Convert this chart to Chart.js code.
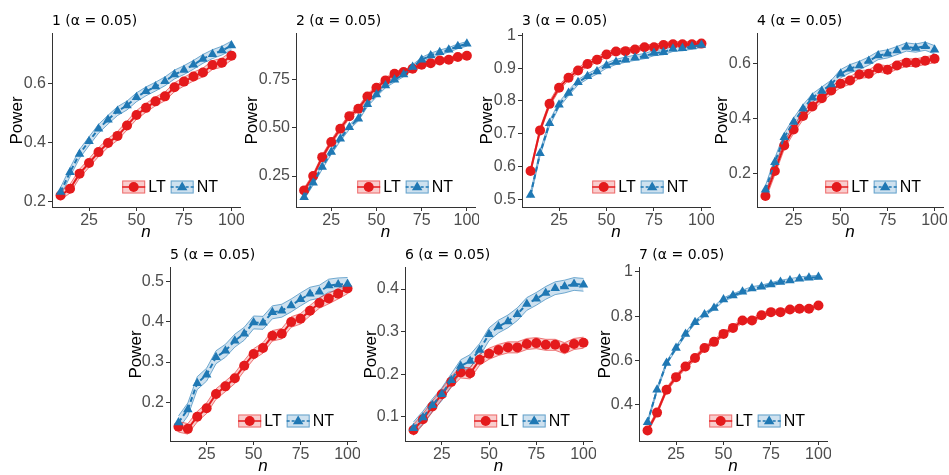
<!DOCTYPE html>
<html>
<head>
<meta charset="utf-8">
<script src="https://cdn.jsdelivr.net/npm/chart.js@4.4.1/dist/chart.umd.min.js"></script>
<style>
  html, body { margin: 0; padding: 0; background: #fff; }
  body { width: 949px; height: 475px; position: relative; overflow: hidden; }
  canvas.panel { position: absolute; }
</style>
</head>
<body>
<script>
// sample sizes on the x axis
const sampleSizes = [10, 15, 20, 25, 30, 35, 40, 45, 50, 55, 60, 65, 70, 75, 80, 85, 90, 95, 100];
const xTicks = [25, 50, 75, 100];
const seriesNames = ["LT", "NT"];
const panelTitles = ["1 (α = 0.05)", "2 (α = 0.05)", "3 (α = 0.05)", "4 (α = 0.05)",
  "5 (α = 0.05)", "6 (α = 0.05)", "7 (α = 0.05)"];

// power
const lt1 = [0.222, 0.245, 0.296, 0.332, 0.369, 0.400, 0.424, 0.459, 0.495, 0.519, 0.541, 0.558, 0.589, 0.608, 0.625, 0.639, 0.664, 0.672, 0.696];
const nt1 = [0.234, 0.301, 0.363, 0.406, 0.448, 0.479, 0.508, 0.527, 0.555, 0.575, 0.591, 0.609, 0.632, 0.647, 0.665, 0.685, 0.701, 0.713, 0.730];
const lt2 = [0.176, 0.250, 0.348, 0.426, 0.495, 0.560, 0.598, 0.662, 0.707, 0.745, 0.779, 0.788, 0.805, 0.826, 0.834, 0.848, 0.852, 0.866, 0.872];
const nt2 = [0.141, 0.216, 0.297, 0.374, 0.443, 0.503, 0.547, 0.621, 0.672, 0.719, 0.748, 0.776, 0.814, 0.852, 0.874, 0.890, 0.903, 0.921, 0.934];
const lt3 = [0.586, 0.710, 0.791, 0.840, 0.871, 0.893, 0.913, 0.926, 0.942, 0.951, 0.952, 0.957, 0.964, 0.964, 0.971, 0.973, 0.973, 0.973, 0.975];
const nt3 = [0.513, 0.640, 0.732, 0.788, 0.824, 0.857, 0.875, 0.890, 0.908, 0.919, 0.926, 0.932, 0.937, 0.946, 0.949, 0.959, 0.961, 0.966, 0.971];
const lt4 = [0.119, 0.210, 0.303, 0.361, 0.410, 0.445, 0.475, 0.503, 0.527, 0.539, 0.561, 0.564, 0.584, 0.578, 0.594, 0.604, 0.604, 0.611, 0.618];
const nt4 = [0.142, 0.242, 0.333, 0.388, 0.436, 0.476, 0.501, 0.525, 0.564, 0.582, 0.594, 0.610, 0.630, 0.636, 0.648, 0.661, 0.657, 0.664, 0.651];
const lt5 = [0.140, 0.135, 0.165, 0.186, 0.221, 0.240, 0.260, 0.291, 0.320, 0.335, 0.365, 0.370, 0.399, 0.407, 0.427, 0.446, 0.457, 0.469, 0.482];
const nt5 = [0.151, 0.183, 0.248, 0.269, 0.312, 0.328, 0.353, 0.370, 0.398, 0.397, 0.423, 0.427, 0.440, 0.455, 0.469, 0.474, 0.489, 0.492, 0.493];
const lt6 = [0.069, 0.094, 0.124, 0.153, 0.182, 0.204, 0.202, 0.234, 0.248, 0.257, 0.263, 0.263, 0.271, 0.273, 0.269, 0.269, 0.261, 0.271, 0.274];
const nt6 = [0.073, 0.098, 0.127, 0.153, 0.186, 0.219, 0.231, 0.257, 0.294, 0.312, 0.324, 0.341, 0.365, 0.377, 0.391, 0.402, 0.406, 0.412, 0.410];
const lt7 = [0.284, 0.365, 0.468, 0.525, 0.573, 0.611, 0.656, 0.684, 0.720, 0.747, 0.780, 0.780, 0.804, 0.818, 0.818, 0.830, 0.833, 0.833, 0.848];
const nt7 = [0.322, 0.468, 0.589, 0.656, 0.720, 0.773, 0.807, 0.837, 0.875, 0.893, 0.910, 0.925, 0.932, 0.943, 0.954, 0.961, 0.969, 0.973, 0.976];

// half width of the shaded band, one per panel
const bandLT = [0.015, 0.012, 0.008, 0.014, 0.013, 0.013, 0.010];
const bandNT = [0.015, 0.012, 0.008, 0.015, 0.016, 0.015, 0.008];

const yTickValues = [[0.2, 0.4, 0.6], [0.25, 0.5, 0.75], [0.5, 0.6, 0.7, 0.8, 0.9, 1],
  [0.2, 0.4, 0.6], [0.2, 0.3, 0.4, 0.5], [0.1, 0.2, 0.3, 0.4], [0.4, 0.6, 0.8, 1]];
const yTickLabels = [["0.2", "0.4", "0.6"], ["0.25", "0.50", "0.75"], ["0.5", "0.6", "0.7", "0.8", "0.9", "1"],
  ["0.2", "0.4", "0.6"], ["0.2", "0.3", "0.4", "0.5"], ["0.1", "0.2", "0.3", "0.4"], ["0.4", "0.6", "0.8", "1"]];
const yLimits = [[0.183, 0.770], [0.090, 0.986], [0.476, 1.005], [0.079, 0.709],
  [0.105, 0.533], [0.043, 0.450], [0.237, 1.018]];

const ltSeries = [lt1, lt2, lt3, lt4, lt5, lt6, lt7];
const ntSeries = [nt1, nt2, nt3, nt4, nt5, nt6, nt7];

// plot area of every panel on the page
const boxes = [
  { l: 52, t: 34, r: 240, b: 207, yw: 45 },
  { l: 296, t: 34, r: 475, b: 207, yw: 54 },
  { l: 522, t: 34, r: 710, b: 207, yw: 45 },
  { l: 757, t: 34, r: 943, b: 207, yw: 45 },
  { l: 170, t: 268, r: 356, b: 441, yw: 44 },
  { l: 405, t: 268, r: 592, b: 441, yw: 44 },
  { l: 639, t: 268, r: 827, b: 441, yw: 44 },
];
const TITLE_H = 34;
const X_H = 35;
const RIGHT_PAD = 4;

const RED = "#e41a1c";
const BLUE = "#1f78b4";
const RED_FILL = "rgba(228,26,28,0.22)";
const BLUE_FILL = "rgba(31,120,180,0.22)";
const RED_EDGE = "rgba(228,26,28,0.55)";
const BLUE_EDGE = "rgba(31,120,180,0.6)";
const SANS = "'Liberation Sans', Arial, sans-serif";

const styles = [
  { color: RED, fill: RED_FILL, edge: RED_EDGE, point: "circle", radius: 5, dash: [] },
  { color: BLUE, fill: BLUE_FILL, edge: BLUE_EDGE, point: "triangle", radius: 5.5, dash: [5, 3] },
];

function drawMarker(ctx, style, x, y) {
  ctx.fillStyle = style.color;
  ctx.beginPath();
  if (style.point === "circle") {
    ctx.arc(x, y, style.radius, 0, Math.PI * 2);
  } else {
    const r = style.radius;
    ctx.moveTo(x, y - r);
    ctx.lineTo(x + r * 0.95, y + r * 0.6);
    ctx.lineTo(x - r * 0.95, y + r * 0.6);
    ctx.closePath();
  }
  ctx.fill();
}

// legend drawn inside the plot, bottom right like the ggplot one
const insideLegend = {
  id: "insideLegend",
  afterDatasetsDraw(chart) {
    const { ctx, chartArea } = chart;
    const keyW = 23, keyH = 13;
    ctx.save();
    ctx.font = "16px " + SANS;
    const widths = seriesNames.map((s) => ctx.measureText(s).width);
    const total = keyW * 2 + 3 * 2 + 5 + widths[0] + widths[1];
    let x = chartArea.right - 22 - total;
    const cy = chartArea.bottom - 20;
    seriesNames.forEach((name, i) => {
      const st = styles[i];
      ctx.fillStyle = st.fill;
      ctx.fillRect(x, cy - keyH / 2, keyW, keyH);
      ctx.strokeStyle = st.edge;
      ctx.lineWidth = 1;
      ctx.strokeRect(x + 0.5, cy - keyH / 2 + 0.5, keyW - 1, keyH - 1);
      ctx.strokeStyle = st.color;
      ctx.lineWidth = 1.5;
      ctx.setLineDash(st.dash.length ? [3, 2] : []);
      ctx.beginPath();
      ctx.moveTo(x, cy);
      ctx.lineTo(x + keyW, cy);
      ctx.stroke();
      ctx.setLineDash([]);
      drawMarker(ctx, st, x + keyW / 2, cy);
      ctx.fillStyle = "#000";
      ctx.textBaseline = "middle";
      ctx.textAlign = "left";
      ctx.fillText(name, x + keyW + 3, cy + 0.5);
      x += keyW + 3 + widths[i] + 5;
    });
    ctx.restore();
  },
};

function makePanel(p) {
  const box = boxes[p];
  const canvas = document.createElement("canvas");
  canvas.className = "panel";
  const left = box.l - box.yw;
  const top = box.t - TITLE_H;
  canvas.width = box.r + RIGHT_PAD - left;
  canvas.height = box.b + X_H - top;
  canvas.style.left = left + "px";
  canvas.style.top = top + "px";
  document.body.appendChild(canvas);

  const datasets = [];
  [ltSeries[p], ntSeries[p]].forEach((vals, i) => {
    const st = styles[i];
    const half = i === 0 ? bandLT[p] : bandNT[p];
    datasets.push({
      data: sampleSizes.map((n, k) => ({ x: n, y: vals[k] - half })),
      borderColor: st.edge, borderWidth: 1, pointRadius: 0, fill: false, order: 2,
    });
    datasets.push({
      data: sampleSizes.map((n, k) => ({ x: n, y: vals[k] + half })),
      borderColor: st.edge, borderWidth: 1, pointRadius: 0, fill: "-1",
      backgroundColor: st.fill, order: 2,
    });
  });
  [ltSeries[p], ntSeries[p]].forEach((vals, i) => {
    const st = styles[i];
    datasets.push({
      label: seriesNames[i],
      data: sampleSizes.map((n, k) => ({ x: n, y: vals[k] })),
      borderColor: st.color, backgroundColor: st.color, borderWidth: 2,
      borderDash: st.dash, pointStyle: st.point, pointRadius: st.radius,
      pointBorderWidth: 0, fill: false, order: 1 - i * 0.5,
    });
  });

  new Chart(canvas, {
    type: "line",
    data: { datasets },
    plugins: [insideLegend],
    options: {
      responsive: false,
      animation: false,
      devicePixelRatio: 1,
      layout: { padding: { left: 0, top: 0, right: RIGHT_PAD, bottom: 0 }, autoPadding: false },
      elements: { line: { tension: 0 } },
      plugins: {
        legend: { display: false },
        tooltip: { enabled: false },
        title: {
          display: true, text: panelTitles[p], align: "start", fullSize: false,
          color: "#000", font: { family: "'DejaVu Sans', sans-serif", size: 14, weight: "normal" },
          padding: { top: 13, bottom: 4 },
        },
      },
      scales: {
        x: {
          type: "linear", min: 5.5, max: 104.5,
          afterBuildTicks: (s) => { s.ticks = xTicks.map((v) => ({ value: v })); },
          ticks: { color: "#4d4d4d", font: { family: SANS, size: 16 }, padding: 0, maxRotation: 0, autoSkip: false,
            callback: (v) => String(v) },
          grid: { display: true, drawOnChartArea: false, drawTicks: true, tickLength: 4, tickColor: "#333" },
          border: { display: true, color: "#333", width: 1 },
          title: { display: true, text: "n", color: "#000", font: { family: SANS, size: 17, style: "italic" }, padding: 0 },
          afterFit: (s) => { s.height = X_H; s.paddingLeft = 0; s.paddingRight = 0; },
        },
        y: {
          type: "linear", min: yLimits[p][0], max: yLimits[p][1],
          afterBuildTicks: (s) => { s.ticks = yTickValues[p].map((v) => ({ value: v })); },
          ticks: { color: "#4d4d4d", font: { family: SANS, size: 16 }, padding: 2, autoSkip: false,
            callback: (v, idx) => yTickLabels[p][idx] },
          grid: { display: true, drawOnChartArea: false, drawTicks: true, tickLength: 4, tickColor: "#333" },
          border: { display: true, color: "#333", width: 1 },
          title: { display: true, text: "Power", color: "#000", font: { family: SANS, size: 17 }, padding: 0 },
          afterFit: (s) => { s.width = box.yw; s.paddingTop = 0; s.paddingBottom = 0; },
        },
      },
    },
  });
}

for (let p = 0; p < boxes.length; p++) makePanel(p);
</script>
</body>
</html>
